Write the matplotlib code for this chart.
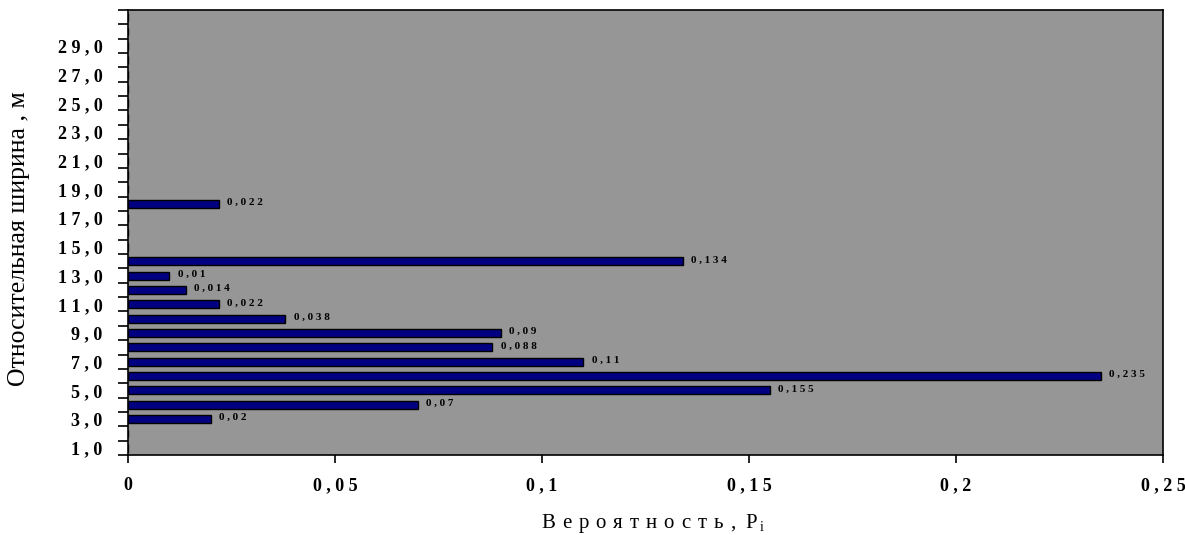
import numpy as np
import matplotlib.pyplot as plt
from matplotlib.font_manager import FontProperties

# relative width classes (m) and their probabilities
widths = np.arange(1, 32)
probs = [0, 0, 0.02, 0.07, 0.155, 0.235, 0.11, 0.088, 0.09, 0.038, 0.022,
         0.014, 0.01, 0.134, 0, 0, 0, 0.022] + [0] * 13
ytick_vals = np.arange(1, 30, 2)
xtick_vals = [0, 0.05, 0.1, 0.15, 0.2, 0.25]
xlabel_word = "Вероятность,"
xlabel_sym = "P"
xlabel_sub = "i"
ylabel = "Относительная ширина , м"


def spaced(s):
    return " ".join(s)


def comma(v):
    return ("%g" % v).replace(".", ",")


plt.rcParams['font.family'] = 'Liberation Serif'

W, H = 1185, 535
fig = plt.figure(figsize=(W / 100, H / 100), dpi=100)
ax = fig.add_axes([0.108, 0.1495, 0.8735, 0.8318])
ax.set_facecolor('#969696')

ax.barh(widths, probs, height=0.55, color='#000080', edgecolor='black', linewidth=1.0)

for y, p in zip(widths, probs):
    if p > 0:
        ax.annotate(spaced(comma(p)), (p, y), xytext=(6, 1), textcoords='offset points',
                    ha='left', va='center', fontsize=8, fontweight='bold')

ax.set_xlim(0, 0.25)
ax.set_ylim(0.5, 31.5)

# tick marks on category boundaries, labels on every second category
ax.set_yticks(np.arange(0.5, 32, 1))
ax.set_yticklabels([])
ax.set_yticks(ytick_vals, minor=True)
ax.set_yticklabels([spaced("%d,0" % v) for v in ytick_vals], minor=True,
                   fontsize=13, fontweight='bold')
ax.tick_params(axis='y', which='major', direction='out', length=7.5, width=1.2)
ax.tick_params(axis='y', which='minor', length=0, pad=18.5)

ax.set_xticks(xtick_vals)
ax.set_xticklabels([spaced(comma(v)) for v in xtick_vals], fontsize=13, fontweight='bold')
ax.tick_params(axis='x', direction='out', length=6, width=1.2, pad=10)

for sp in ax.spines.values():
    sp.set_linewidth(1.2)
    sp.set_color('black')

# letter-spaced x axis title, placed glyph by glyph
renderer = fig.canvas.get_renderer()
fp = FontProperties(family='Liberation Serif', size=15)
track = 7.0
x = 541.0
base = (H - 528) / H
for ch in xlabel_word:
    fig.text(x / W, base, ch, fontproperties=fp, ha='left', va='baseline')
    w = renderer.get_text_width_height_descent(ch, fp, ismath=False)[0]
    x += w + track
x += 3
fig.text(x / W, base, xlabel_sym, fontproperties=fp, ha='left', va='baseline')
x += renderer.get_text_width_height_descent(xlabel_sym, fp, ismath=False)[0] + 3
fig.text(x / W, base - 3 / H, xlabel_sub, family='Liberation Serif', fontsize=10,
         ha='left', va='baseline')

fig.text(19 / W, (H - 239) / H, ylabel, rotation=90,
         ha='center', va='center', fontsize=18.5)

fig.savefig('out.png', dpi=100)
